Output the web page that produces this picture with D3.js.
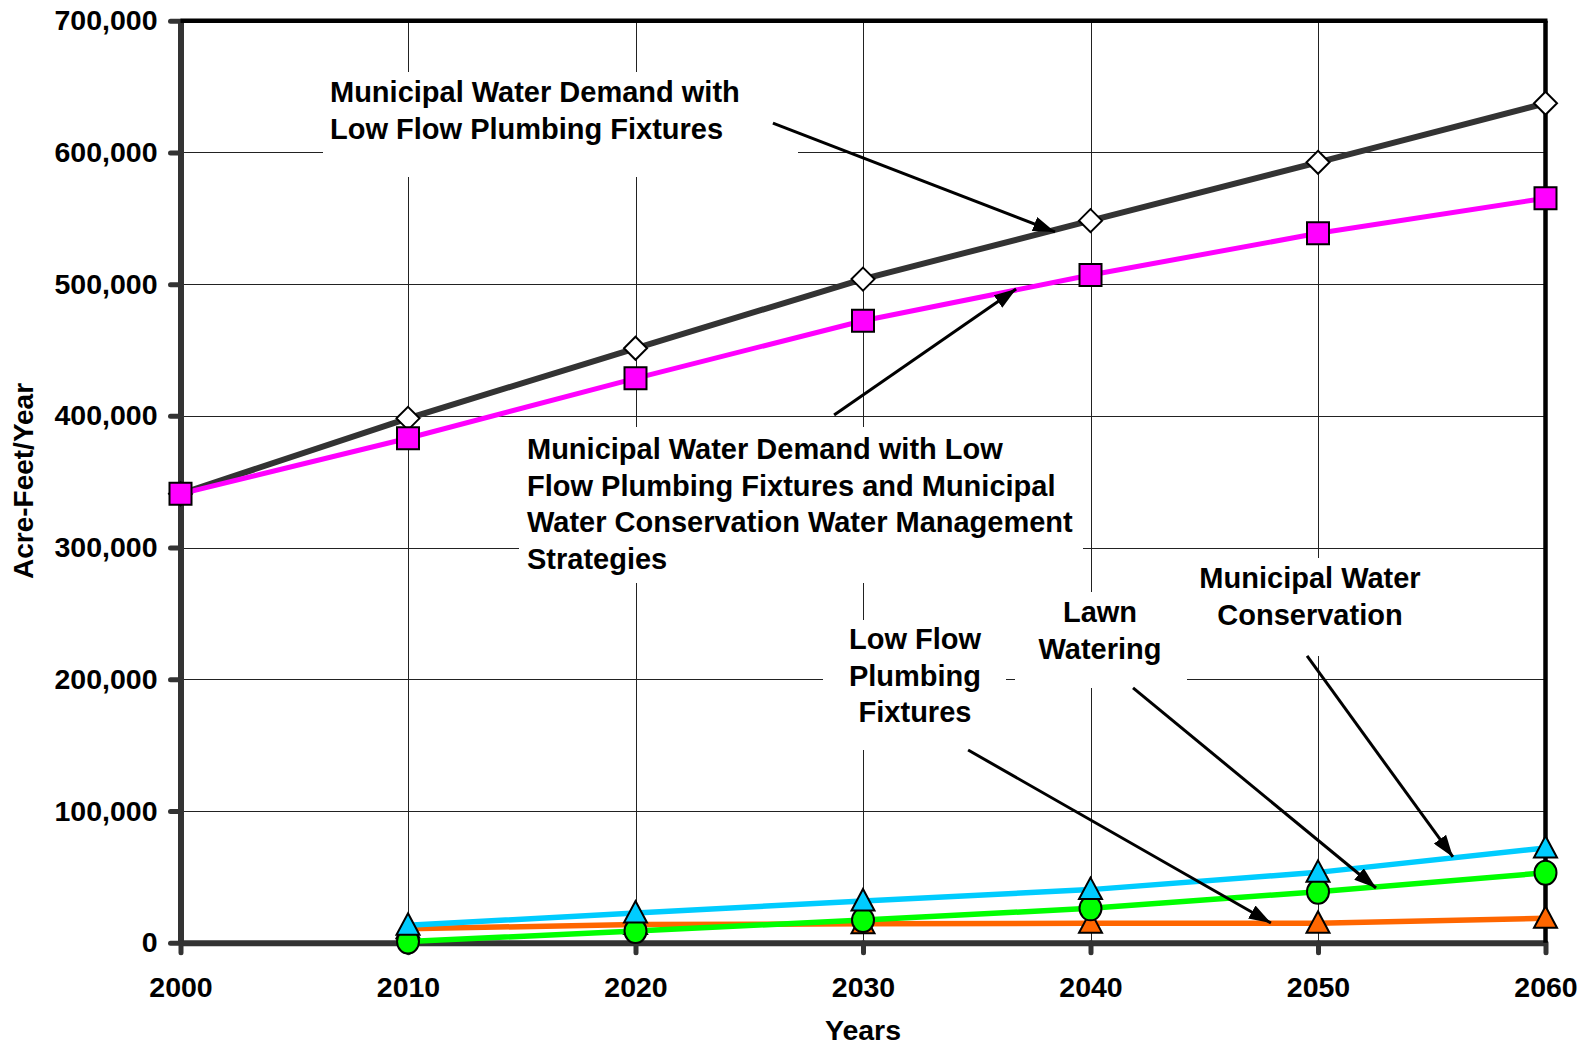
<!DOCTYPE html>
<html>
<head>
<meta charset="utf-8">
<script src="https://cdn.jsdelivr.net/npm/d3@7"></script>
<style>
  body { margin: 0; background: #fff; }
  svg { display: block; }
  text { font-family: "Liberation Sans", Arial, sans-serif; font-weight: bold; fill: #000; }
  .grid line { stroke: #222; stroke-width: 1; shape-rendering: crispEdges; }
</style>
</head>
<body>
<svg width="1580" height="1047"></svg>
<script>
// years on the x axis
const years = [2000, 2010, 2020, 2030, 2040, 2050, 2060];

// acre-feet per year
const demandLowFlow    = [340800, 398100, 451300, 503800, 548200, 592500, 637300];
const demandStrategies = [340800, 383000, 428500, 472200, 506900, 538600, 565200];
const conservation     = [null, 13200, 22500, 31700, 40300, 53400, 71900];
const lowFlowFixtures  = [null, 10600, 13800, 14300, 14700, 14700, 18500];
const lawnWatering     = [null, 900, 8900, 17200, 26100, 38700, 53100];

const yTicks = [0, 100000, 200000, 300000, 400000, 500000, 600000, 700000];

const svg = d3.select("svg");

const x = d3.scaleLinear().domain([2000, 2060]).range([180.5, 1545.5]);
const y = d3.scaleLinear().domain([0, 700000]).range([942.7, 20.7]);

// gridlines
const grid = svg.append("g").attr("class", "grid");
grid.selectAll("line.h")
  .data(yTicks.filter(d => d > 0 && d < 700000))
  .enter().append("line")
  .attr("x1", x(2000)).attr("x2", x(2060))
  .attr("y1", d => Math.round(y(d)) + 0.5).attr("y2", d => Math.round(y(d)) + 0.5);
grid.selectAll("line.v")
  .data(years.filter(d => d > 2000 && d < 2060))
  .enter().append("line")
  .attr("y1", y(700000)).attr("y2", y(0))
  .attr("x1", d => Math.round(x(d)) + 0.5).attr("x2", d => Math.round(x(d)) + 0.5);

// label boxes (white, hide the grid under the text)
const notes = [
  { box: [323, 72, 798, 177], anchor: "start", tx: 330, base: 102,
    lines: ["Municipal Water Demand with", "Low Flow Plumbing Fixtures"],
    arrow: [[2026.04, 622300], [2038.44, 539600]] },
  { box: [519, 427, 1083, 583], anchor: "start", tx: 527, base: 459,
    lines: ["Municipal Water Demand with Low", "Flow Plumbing Fixtures and Municipal",
            "Water Conservation Water Management", "Strategies"],
    arrow: [[2028.73, 400650], [2036.73, 496300]] },
  { box: [823, 620, 1006, 750], anchor: "middle", tx: 915, base: 649,
    lines: ["Low Flow", "Plumbing", "Fixtures"],
    arrow: [[2034.62, 146300], [2047.93, 14960]] },
  { box: [1015, 592, 1187, 688], anchor: "middle", tx: 1100, base: 622,
    lines: ["Lawn", "Watering"],
    arrow: [[2041.87, 193400], [2052.55, 41530]] },
  { box: [1190, 558, 1430, 656], anchor: "middle", tx: 1310, base: 588,
    lines: ["Municipal Water", "Conservation"],
    arrow: [[2049.52, 217680], [2055.93, 65070]] }
];

svg.append("g").selectAll("rect")
  .data(notes)
  .enter().append("rect")
  .attr("x", d => d.box[0]).attr("y", d => d.box[1])
  .attr("width", d => d.box[2] - d.box[0]).attr("height", d => d.box[3] - d.box[1])
  .attr("fill", "#fff");

// axes
const yAxis = d3.axisLeft(y).tickValues(yTicks).tickFormat(d3.format(","))
  .tickSize(10).tickSizeOuter(0).tickPadding(13);
const xAxis = d3.axisBottom(x).tickValues(years).tickFormat(d3.format("d"))
  .tickSize(10).tickSizeOuter(0).tickPadding(24);

const gy = svg.append("g").attr("transform", "translate(" + x(2000) + ",0)").call(yAxis);
const gx = svg.append("g").attr("transform", "translate(0," + y(0) + ")").call(xAxis);

[gy, gx].forEach(g => {
  g.select(".domain").attr("stroke", "#333").attr("stroke-width", 6);
  g.selectAll(".tick line").attr("stroke", "#333").attr("stroke-width", 5)
    .attr("stroke-linecap", "round");
  g.selectAll(".tick text").style("font-size", "28.5px").attr("fill", "#000")
    .style("font-family", '"Liberation Sans", Arial, sans-serif').style("font-weight", "bold");
});
gx.selectAll(".tick text").attr("dy", "0.71em");

// frame: top and right in black
svg.append("line").attr("x1", x(2000)).attr("x2", x(2060) + 2)
  .attr("y1", y(700000)).attr("y2", y(700000))
  .attr("stroke", "#000").attr("stroke-width", 4.5);
svg.append("line").attr("x1", x(2060)).attr("x2", x(2060))
  .attr("y1", y(700000)).attr("y2", y(0))
  .attr("stroke", "#000").attr("stroke-width", 4.5);

// axis titles
svg.append("text").attr("x", x(2030)).attr("y", 1040)
  .attr("text-anchor", "middle").style("font-size", "28.5px").text("Years");
svg.append("text")
  .attr("transform", "translate(33,481) rotate(-90)")
  .attr("text-anchor", "middle").style("font-size", "28px").text("Acre-Feet/Year");

// series
const series = [
  { values: demandLowFlow, color: "#333333", width: 6, marker: "diamond", fill: "#fff" },
  { values: demandStrategies, color: "#ff00ff", width: 5, marker: "square", fill: "#ff00ff" },
  { values: lowFlowFixtures, color: "#ff6600", width: 5.5, marker: "triangle", fill: "#ff6600" },
  { values: lawnWatering, color: "#00ff00", width: 5.5, marker: "circle", fill: "#00ff00" },
  { values: conservation, color: "#00ccff", width: 5.5, marker: "triangle", fill: "#00ccff" }
];

const line = d3.line()
  .defined(d => d.v != null)
  .x(d => x(d.year))
  .y(d => y(d.v));

function markerPath(kind) {
  if (kind === "diamond") return "M0,-11.5L11.5,0L0,11.5L-11.5,0Z";
  if (kind === "square") return "M-11,-11H11V11H-11Z";
  if (kind === "triangle") return "M0,-12L11.5,9.5H-11.5Z";
  return null;
}

series.forEach(s => {
  const pts = years.map((yr, i) => ({ year: yr, v: s.values[i] }));
  const g = svg.append("g");
  g.append("path")
    .datum(pts)
    .attr("d", line)
    .attr("fill", "none")
    .attr("stroke", s.color)
    .attr("stroke-width", s.width)
    .attr("stroke-linejoin", "round");
  const m = g.selectAll(".mk")
    .data(pts.filter(d => d.v != null))
    .enter();
  if (s.marker === "circle") {
    m.append("ellipse")
      .attr("cx", d => x(d.year)).attr("cy", d => y(d.v))
      .attr("rx", 11).attr("ry", 12)
      .attr("fill", s.fill).attr("stroke", "#000").attr("stroke-width", 2);
  } else {
    m.append("path")
      .attr("transform", d => "translate(" + x(d.year) + "," + y(d.v) + ")")
      .attr("d", markerPath(s.marker))
      .attr("fill", s.fill).attr("stroke", "#000").attr("stroke-width", 2)
      .attr("stroke-linejoin", "miter");
  }
});

// arrows
svg.append("defs").append("marker")
  .attr("id", "head")
  .attr("markerUnits", "userSpaceOnUse")
  .attr("viewBox", "0 0 22 15")
  .attr("refX", 22).attr("refY", 7.5)
  .attr("markerWidth", 22).attr("markerHeight", 15)
  .attr("orient", "auto")
  .append("path").attr("d", "M0,0L22,7.5L0,15Z").attr("fill", "#000");

svg.append("g").selectAll("line")
  .data(notes)
  .enter().append("line")
  .attr("x1", d => x(d.arrow[0][0])).attr("y1", d => y(d.arrow[0][1]))
  .attr("x2", d => x(d.arrow[1][0])).attr("y2", d => y(d.arrow[1][1]))
  .attr("stroke", "#000").attr("stroke-width", 3)
  .attr("marker-end", "url(#head)");

// annotation text
const nt = svg.append("g").selectAll("text")
  .data(notes)
  .enter().append("text")
  .attr("text-anchor", d => d.anchor)
  .style("font-size", "29px");
nt.each(function (d) {
  d3.select(this).selectAll("tspan")
    .data(d.lines)
    .enter().append("tspan")
    .attr("x", d.tx)
    .attr("y", (l, i) => d.base + i * 36.5)
    .text(l => l);
});
</script>
</body>
</html>
